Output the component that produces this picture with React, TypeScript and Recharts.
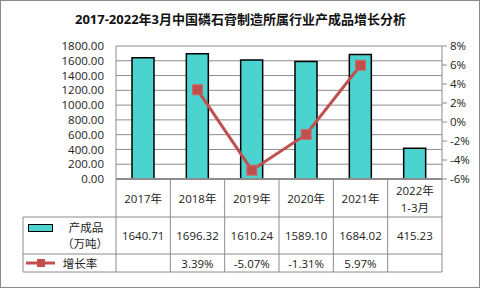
import React from 'react';
import { ComposedChart, Bar, Line, XAxis, YAxis, CartesianGrid } from 'recharts';

const title = '2017-2022年3月中国磷石膏制造所属行业产成品增长分析';
const categories = ['2017年', '2018年', '2019年', '2020年', '2021年', '2022年\n1-3月'];
const output = [1640.71, 1696.32, 1610.24, 1589.1, 1684.02, 415.23];
const growth: (number | null)[] = [null, 3.39, -5.07, -1.31, 5.97, null];
const leftTicks = [0, 200, 400, 600, 800, 1000, 1200, 1400, 1600, 1800];
const rightTicks = [-6, -4, -2, 0, 2, 4, 6, 8];
const seriesNames = ['产成品\n（万吨）', '增长率'];

const data = categories.map((c, i) => ({ name: c, output: output[i], growth: growth[i] }));

const W = 481;
const H = 289;
const LEFT_W = 116;
const RIGHT_W = 39;
const TOP = 46;
const XAXIS_H = 110;
const PLOT_BOTTOM = H - XAXIS_H;
const BW = (W - LEFT_W - RIGHT_W) / categories.length;
const ROW1 = 217;
const ROW2 = 254;
const ROW3 = 272;
const TABLE_LEFT = 23;
const GRID = '#8c8c8c';
const FONT = '"Open Sans", "Noto Sans CJK SC", sans-serif';
const CJK = '"Noto Sans CJK SC", sans-serif';
const BAR_FILL = '#4BD3D0';
const LINE_C = '#C0504D';
const TXT = '#222';
const FS = 11.5;

const fmtRate = (v: number | null) => (v === null ? '' : `${v.toFixed(2)}%`);

const T = (p: { k: string; x: number; y: number; s: string; f?: string }) => (
  <text key={p.k} x={p.x} y={p.y} textAnchor="middle" dominantBaseline="central" fontSize={FS} fill={TXT} fontFamily={p.f || FONT}>
    {p.s}
  </text>
);

const TableTick = (props: any) => {
  const { x, index } = props;
  const x0 = x - BW / 2;
  const x1 = x + BW / 2;
  const lines = categories[index].split('\n');
  const els: React.ReactNode[] = [];
  els.push(<line key="vl" x1={x0} y1={PLOT_BOTTOM} x2={x0} y2={ROW3} stroke={GRID} strokeWidth={1} />);
  if (index === categories.length - 1) {
    els.push(<line key="vr" x1={x1} y1={PLOT_BOTTOM} x2={x1} y2={ROW3} stroke={GRID} strokeWidth={1} />);
  }
  [ROW1, ROW2, ROW3].forEach((yy, k) => {
    els.push(<line key={'h' + k} x1={x0} y1={yy} x2={x1} y2={yy} stroke={GRID} strokeWidth={1} />);
  });
  if (lines.length === 1) {
    els.push(T({ k: 'c', x, y: 198, s: lines[0] }));
  } else {
    els.push(T({ k: 'c1', x, y: 190, s: lines[0] }));
    els.push(T({ k: 'c2', x, y: 207, s: lines[1] }));
  }
  els.push(T({ k: 'v', x, y: 235, s: output[index].toFixed(2) }));
  els.push(T({ k: 'r', x, y: 263, s: fmtRate(growth[index]) }));
  if (index === 0) {
    const n1 = seriesNames[0].split('\n');
    els.push(<line key="lh1" x1={TABLE_LEFT} y1={ROW1} x2={x0} y2={ROW1} stroke={GRID} />);
    els.push(<line key="lh2" x1={TABLE_LEFT} y1={ROW2} x2={x0} y2={ROW2} stroke={GRID} />);
    els.push(<line key="lh3" x1={TABLE_LEFT} y1={ROW3} x2={x0} y2={ROW3} stroke={GRID} />);
    els.push(<line key="lv" x1={TABLE_LEFT} y1={ROW1} x2={TABLE_LEFT} y2={ROW3} stroke={GRID} />);
    els.push(<rect key="lb" x={28.5} y={224.5} width={24} height={7} fill={BAR_FILL} stroke="#000" strokeWidth={1} />);
    els.push(T({ k: 'n1a', x: 86, y: 227, s: n1[0], f: CJK }));
    els.push(T({ k: 'n1b', x: 85, y: 243, s: n1[1], f: CJK }));
    els.push(<line key="ll" x1={26} y1={263} x2={55} y2={263} stroke={LINE_C} strokeWidth={3} />);
    els.push(<rect key="lm" x={37} y={259} width={8} height={8} fill={LINE_C} />);
    els.push(T({ k: 'n2', x: 80, y: 263, s: seriesNames[1], f: CJK }));
  }
  return <g>{els}</g>;
};

const SquareDot = (props: any) => {
  const { cx, cy, value } = props;
  if (value === null || value === undefined || cx == null || cy == null) return <g key={props.index} />;
  return <rect key={props.index} x={cx - 5} y={cy - 5} width={10} height={10} fill={LINE_C} stroke="#CD6B68" strokeWidth={1} />;
};

export default function App() {
  return (
    <div style={{ position: 'absolute', left: 0, top: 0, width: W, height: H, background: '#fff' }}>
      <ComposedChart
        width={W}
        height={H}
        data={data}
        margin={{ top: TOP, right: 0, bottom: 0, left: 0 }}
        barCategoryGap={0}
      >
        <CartesianGrid yAxisId="l" horizontal vertical={false} stroke={GRID} strokeWidth={1} />
        <XAxis
          dataKey="name"
          height={XAXIS_H}
          interval={0}
          axisLine={{ stroke: GRID, strokeWidth: 2 }}
          tickLine={false}
          tick={<TableTick />}
        />
        <YAxis
          yAxisId="l"
          orientation="left"
          width={LEFT_W}
          domain={[0, 1800]}
          ticks={leftTicks}
          interval={0}
          tickFormatter={(v: number) => v.toFixed(2)}
          axisLine={{ stroke: GRID }}
          tickLine={false}
          tickMargin={6}
          tick={{ fontSize: FS, fill: TXT, fontFamily: FONT }}
        />
        <YAxis
          yAxisId="r"
          orientation="right"
          width={RIGHT_W}
          domain={[-6, 8]}
          ticks={rightTicks}
          interval={0}
          tickFormatter={(v: number) => `${v}%`}
          axisLine={{ stroke: GRID }}
          tickLine={{ stroke: GRID }}
          tickSize={5}
          tickMargin={3}
          tick={{ fontSize: FS, fill: TXT, fontFamily: FONT }}
        />
        <Bar yAxisId="l" dataKey="output" barSize={22} fill={BAR_FILL} stroke="#000" strokeWidth={1.5} isAnimationActive={false} />
        <Line
          yAxisId="r"
          dataKey="growth"
          stroke={LINE_C}
          strokeWidth={3}
          dot={<SquareDot />}
          activeDot={false}
          isAnimationActive={false}
        />
      </ComposedChart>
      <div
        style={{
          position: 'absolute',
          left: 0,
          top: 10,
          width: W,
          textAlign: 'center',
          fontFamily: FONT,
          fontWeight: 'bold',
          fontSize: 13,
          lineHeight: '18px',
          color: '#111',
          pointerEvents: 'none',
        }}
      >
        {title}
      </div>
      <div
        style={{
          position: 'absolute',
          left: 0,
          top: 0,
          width: W - 1,
          height: 288,
          boxSizing: 'border-box',
          border: '1.5px solid #8c8c8c',
          pointerEvents: 'none',
        }}
      />
    </div>
  );
}
